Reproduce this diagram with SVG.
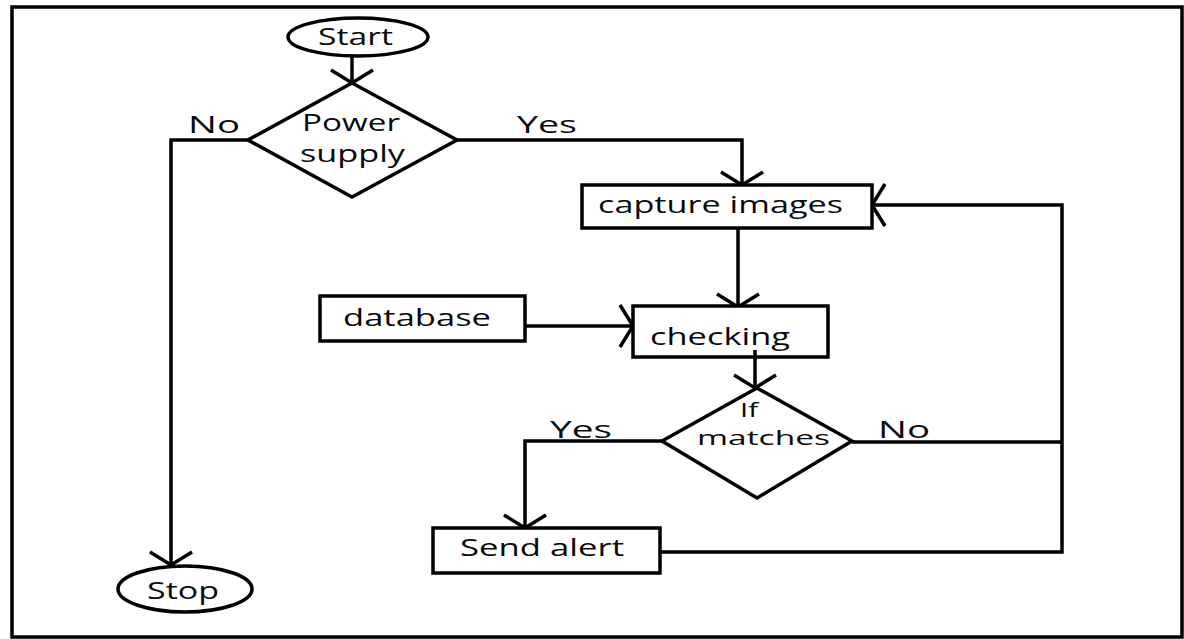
<svg xmlns="http://www.w3.org/2000/svg" width="1184" height="639" viewBox="0 0 1184 639">
<style>
.shape{fill:#fff;stroke:#000;stroke-width:3.5}
.conn{fill:none;stroke:#000;stroke-width:3.5}
.t{font-family:"Open Sans","Noto Sans",sans-serif;font-size:23px;fill:#0a0a0a}
.s{font-size:20px}
</style>
<defs>
<marker id="arr" markerUnits="userSpaceOnUse" viewBox="-16 -24 20 48" markerWidth="20" markerHeight="48" refX="0" refY="0" orient="auto">
<path d="M-13,-21 L0,0 L-13,21" fill="none" stroke="#000" stroke-width="3.5"/>
</marker>
</defs>
<rect x="12" y="7" width="1170" height="630" fill="#fff" stroke="#000" stroke-width="3.5"/>
<g id="connectors">
<path class="conn" d="M352,57 L352,83" marker-end="url(#arr)"/>
<path class="conn" d="M248,140 L171,140 L171,565" marker-end="url(#arr)"/>
<path class="conn" d="M457,140 L742,140 L742,185" marker-end="url(#arr)"/>
<path class="conn" d="M738,228 L738,307" marker-end="url(#arr)"/>
<path class="conn" d="M525,326 L633,326" marker-end="url(#arr)"/>
<path class="conn" d="M755,350 L755,388" marker-end="url(#arr)"/>
<path class="conn" d="M662,441 L525,441 L525,528" marker-end="url(#arr)"/>
<path class="conn" d="M852,442 L1062,442"/>
<path class="conn" d="M660,552 L1062,552 L1062,205 L872,205" marker-end="url(#arr)"/>
<text class="t" x="188" y="133" textLength="52" lengthAdjust="spacingAndGlyphs">No</text>
<text class="t" x="517" y="133" textLength="60" lengthAdjust="spacingAndGlyphs">Yes</text>
<text class="t" x="550" y="438" textLength="62" lengthAdjust="spacingAndGlyphs">Yes</text>
<text class="t" x="878" y="438" textLength="52" lengthAdjust="spacingAndGlyphs">No</text>
</g>
<g id="start">
<ellipse class="shape" cx="358" cy="37" rx="70" ry="19"/>
<text class="t" x="318" y="45" textLength="75" lengthAdjust="spacingAndGlyphs">Start</text>
</g>
<g id="power">
<polygon class="shape" points="352,83 457,140 352,197 248,140"/>
<text class="t" x="302" y="131" textLength="98" lengthAdjust="spacingAndGlyphs">Power</text>
<text class="t" x="300" y="162" textLength="105" lengthAdjust="spacingAndGlyphs">supply</text>
</g>
<g id="capture">
<rect class="shape" x="582" y="185" width="290" height="43"/>
<text class="t" x="598" y="213" textLength="245" lengthAdjust="spacingAndGlyphs">capture images</text>
</g>
<g id="database">
<rect class="shape" x="320" y="296" width="205" height="45"/>
<text class="t" x="343" y="326" textLength="148" lengthAdjust="spacingAndGlyphs">database</text>
</g>
<g id="checking">
<rect class="shape" x="633" y="306" width="195" height="51"/>
<text class="t" x="650" y="345" textLength="140" lengthAdjust="spacingAndGlyphs">checking</text>
<line x1="755" y1="350" x2="755" y2="360" stroke="#000" stroke-width="3.5"/>
</g>
<g id="matches">
<polygon class="shape" points="757,388 852,441 757,498 662,441"/>
<text class="t s" x="740" y="417" textLength="18" lengthAdjust="spacingAndGlyphs">If</text>
<text class="t s" x="697" y="445" textLength="133" lengthAdjust="spacingAndGlyphs">matches</text>
</g>
<g id="alert">
<rect class="shape" x="433" y="528" width="227" height="45"/>
<text class="t" x="460" y="556" textLength="164" lengthAdjust="spacingAndGlyphs">Send alert</text>
</g>
<g id="stop">
<ellipse class="shape" cx="185" cy="589" rx="67" ry="23"/>
<text class="t" x="147" y="599" textLength="72" lengthAdjust="spacingAndGlyphs">Stop</text>
</g>
</svg>
